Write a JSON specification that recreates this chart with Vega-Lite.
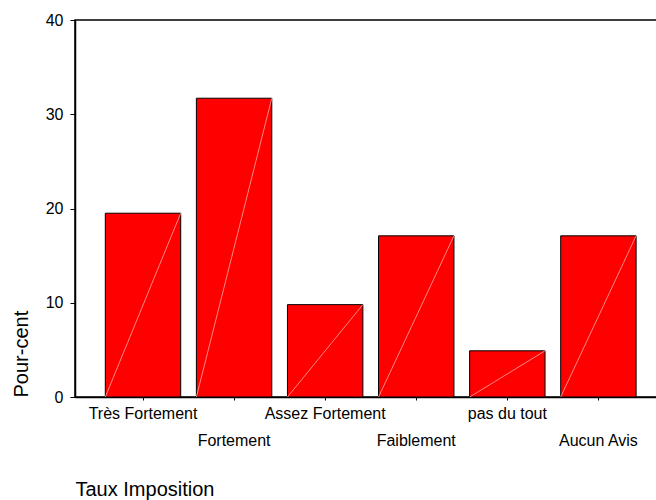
{
  "$schema": "https://vega.github.io/schema/vega-lite/v6.json",
  "width": 582,
  "height": 377,
  "autosize": "none",
  "padding": {"left": 75, "top": 20, "right": 0, "bottom": 103},
  "background": "white",
  "config": {
    "view": {"stroke": "black", "strokeWidth": 1.5},
    "font": "Liberation Sans"
  },
  "data": {
    "values": [
      {"categorie": "Très Fortement", "pct": 19.5},
      {"categorie": "Fortement", "pct": 31.7},
      {"categorie": "Assez Fortement", "pct": 9.8},
      {"categorie": "Faiblement", "pct": 17.1},
      {"categorie": "pas du tout", "pct": 4.9},
      {"categorie": "Aucun Avis", "pct": 17.1}
    ]
  },
  "encoding": {
    "x": {
      "field": "categorie",
      "type": "nominal",
      "sort": null,
      "scale": {"paddingInner": 0.172, "paddingOuter": 0.281, "align": 0.592},
      "axis": {
        "title": "Taux Imposition",
        "titleAnchor": "start",
        "titleFont": "Liberation Sans",
        "titleFontSize": 20,
        "titleFontWeight": "normal",
        "titleColor": "black",
        "titlePadding": 31,
        "labelFont": "Liberation Sans",
        "labelFontSize": 16,
        "labelColor": "black",
        "labelAngle": 0,
        "labelBaseline": "alphabetic",
        "labelPadding": 18,
        "labelLineHeight": 27,
        "labelOverlap": false,
        "labelExpr": "indexof(['Fortement','Faiblement','Aucun Avis'], datum.label) >= 0 ? ['', datum.label] : datum.label",
        "tickSize": 3,
        "tickColor": "black",
        "domainColor": "black",
        "domainWidth": 1.5
      }
    },
    "y": {
      "field": "pct",
      "type": "quantitative",
      "scale": {"domain": [0, 40], "nice": false},
      "axis": {
        "title": "Pour-cent",
        "titleAnchor": "start",
        "titleFont": "Liberation Sans",
        "titleFontSize": 20,
        "titleFontWeight": "normal",
        "titleColor": "black",
        "titlePadding": 14,
        "values": [0, 10, 20, 30, 40],
        "grid": false,
        "labelFont": "Liberation Sans",
        "labelFontSize": 16,
        "labelColor": "black",
        "labelPadding": 7,
        "tickSize": 5,
        "tickColor": "black",
        "domainColor": "black",
        "domainWidth": 1.5
      }
    }
  },
  "layer": [
    {
      "mark": {"type": "bar", "fill": "#ff0000", "stroke": "black", "strokeWidth": 1}
    },
    {
      "mark": {"type": "rule", "stroke": "#ffa8a8", "strokeWidth": 0.8, "xOffset": 37.7, "x2Offset": -37.7},
      "encoding": {
        "x2": {"field": "categorie"},
        "y2": {"datum": 0}
      }
    }
  ]
}
